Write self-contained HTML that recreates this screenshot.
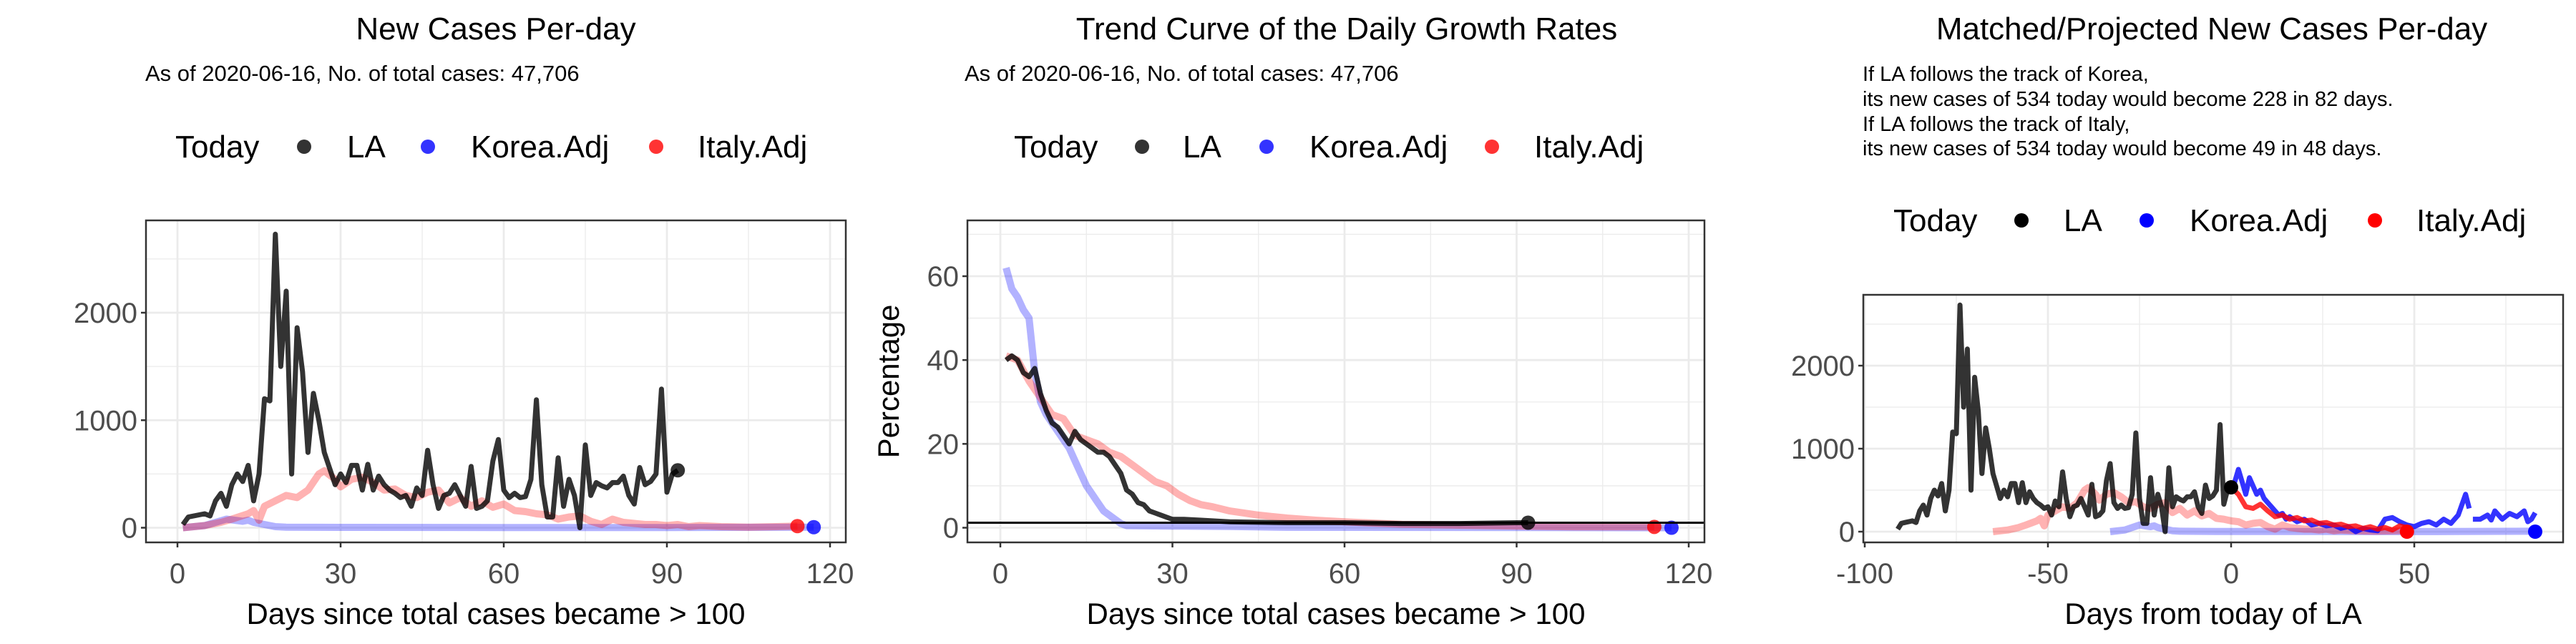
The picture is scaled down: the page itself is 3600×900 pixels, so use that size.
<!DOCTYPE html>
<html><head><meta charset="utf-8">
<style>
html,body{margin:0;padding:0;background:#fff;}
svg{display:block;font-family:"Liberation Sans",Arial,sans-serif;}
</style></head>
<body>
<svg id="chart" width="3600" height="900" viewBox="0 0 3600 900" xmlns="http://www.w3.org/2000/svg">
<g fill="#000">
<text x="693" y="55" font-size="44" text-anchor="middle">New Cases Per-day</text>
<text x="203" y="113" font-size="31">As of 2020-06-16, No. of total cases: 47,706</text>
<text x="1882" y="55" font-size="44" text-anchor="middle">Trend Curve of the Daily Growth Rates</text>
<text x="1348" y="113" font-size="31">As of 2020-06-16, No. of total cases: 47,706</text>
<text x="3091" y="55" font-size="44" text-anchor="middle">Matched/Projected New Cases Per-day</text>
<text font-size="29" x="2603">
<tspan x="2603" y="113">If LA follows the track of Korea,</tspan>
<tspan x="2603" y="148">its new cases of 534 today would become 228 in 82 days.</tspan>
<tspan x="2603" y="183">If LA follows the track of Italy,</tspan>
<tspan x="2603" y="217">its new cases of 534 today would become 49 in 48 days.</tspan>
</text>
</g>
<g id="layer"></g>
</svg>
<script>
// ---- data ----
const laDays = [];
for (let i = 1; i <= 92; i++) laDays.push(i);
const laCases = [30,100,110,120,130,110,250,320,200,400,500,430,580,250,500,1200,1180,2730,1500,2200,500,1860,1450,700,1250,1000,700,550,400,500,420,580,580,350,590,350,480,400,350,320,280,300,200,370,300,720,400,180,300,320,400,300,200,570,180,200,250,620,820,350,280,320,280,290,450,1190,400,100,100,650,200,450,300,0,770,300,420,390,370,420,420,480,300,220,560,400,430,500,1290,330,500,534];
const italyDays = [1,5,8,10,13,14,15,16,18,20,22,24,26,27,29,30,32,34,36,38,40,42,44,46,48,50,52,54,56,58,60,62,64,66,68,70,72,74,76,78,80,82,84,86,88,90,92,94,96,100,105,110,114];
const italyCases = [0,20,50,80,130,160,70,200,250,300,280,350,500,530,450,380,450,470,420,350,360,300,280,330,350,230,280,200,250,190,220,160,150,130,120,80,100,110,60,30,80,50,40,30,30,20,30,10,20,10,5,10,15];
const koreaDays = [1,5,9,12,13,14,16,18,20,30,60,90,117];
const koreaCases = [0,20,80,60,70,50,30,10,5,3,2,1,5];
const laGrowthDays = [1,2,3,4,5,6,7,8,9,10,11,12,13,14,15,16,17,18,19,20,21,22,23,24,25,26,27,28,29,30,32,35,40,50,60,70,80,90,92];
const laGrowth = [40,41,40,37,36,38,32,28,25,24,22,20,23,21,20,19,18,18,17,15,13,9,8,6,5.5,4,3.5,3,2.5,2,2,1.8,1.4,1.2,1.2,1,1,1.2,1.2];
const italyGrowthDays = [1,3,5,7,9,11,13,15,17,19,21,23,25,27,29,31,33,35,37,40,45,50,55,60,70,80,90,100,114];
const italyGrowth = [41,40,35,31,27,26,22,21,20,18,17,15,13,11,10,8,6.5,5.5,5,4,3,2.3,1.8,1.4,0.8,0.6,0.4,0.2,0.2];
const koreaGrowthDays = [1,2,3,4,5,6,7,8,9,10,11,12,13,14,15,16,17,18,19,20,21,22,30,40,50,117];
const koreaGrowth = [62,57,55,52,50,37,30,27,25,23,21,19,16,13,10,8,6,4,3,2,1,0.5,0.4,0.3,0.1,0];
const growthRef = 1.2;
const laToday = 92, italyShift = 66, koreaShift = 34;
const italyProjDays = [0,2,4,6,8,10,12,14,16,18,20,22,24,26,28,30,32,34,36,38,40,42,44,46,48];
const italyProj = [534,450,300,280,330,250,180,200,150,170,130,140,100,110,80,90,60,70,40,60,30,50,20,70,49];
const koreaProjDays = [0,1,2,3,4,5,6,7,8,9,10,11,12,13,14,15,16,18,20,22,24,26,28,30,32,34,36,38,40,42,44,46,48,50,52,54,56,58,60,62,64,65];
const koreaProj = [534,600,750,600,450,650,550,450,500,400,350,300,250,200,220,150,180,120,150,80,100,70,80,40,60,0,40,20,10,150,170,120,80,60,100,120,80,150,100,200,450,280];
const koreaProj2Days = [66,68,70,71,72,74,76,78,80,81,82,83];
const koreaProj2 = [150,150,200,140,250,150,220,180,250,120,150,228];
const legendLabels = ["LA","Korea.Adj","Italy.Adj"];

// ---- helpers ----
const NS = "http://www.w3.org/2000/svg";
const layer = document.getElementById("layer");
function mk(tag, attrs, parent) {
  const e = document.createElementNS(NS, tag);
  for (const k in attrs) e.setAttribute(k, attrs[k]);
  (parent || layer).appendChild(e);
  return e;
}
function lin(d0, d1, r0, r1) { return v => r0 + (v - d0) * (r1 - r0) / (d1 - d0); }
function pathD(xs, ys, sx, sy) {
  return xs.map((x, i) => (i ? "L" : "M") + sx(x).toFixed(1) + "," + sy(ys[i]).toFixed(1)).join("");
}

function panel(p) {
  const g = mk("g", {});
  
  
  const sx = lin(p.xd[0], p.xd[1], p.xr[0], p.xr[1]);
  const sy = lin(p.yd[0], p.yd[1], p.yr[0], p.yr[1]);
  p.yminor.forEach(v => mk("line", {x1: p.box[0], x2: p.box[2], y1: sy(v), y2: sy(v), stroke: "#ebebeb", "stroke-width": 1.3}, g));
  p.xminor.forEach(v => mk("line", {y1: p.box[1], y2: p.box[3], x1: sx(v), x2: sx(v), stroke: "#ebebeb", "stroke-width": 1.3}, g));
  p.yticks.forEach(v => mk("line", {x1: p.box[0], x2: p.box[2], y1: sy(v), y2: sy(v), stroke: "#ebebeb", "stroke-width": 2.8}, g));
  p.xticks.forEach(v => mk("line", {y1: p.box[1], y2: p.box[3], x1: sx(v), x2: sx(v), stroke: "#ebebeb", "stroke-width": 2.8}, g));
  const clipId = p.name + "-clip";
  const cp = mk("clipPath", {id: clipId}, g);
  mk("rect", {x: p.box[0], y: p.box[1], width: p.box[2] - p.box[0], height: p.box[3] - p.box[1]}, cp);
  const plot = mk("g", {"clip-path": "url(#" + clipId + ")"}, g);
  p.series.forEach(s => {
    const e = mk("path", {d: pathD(s.x, s.y, sx, sy), fill: "none", stroke: s.c, "stroke-opacity": s.o, "stroke-width": s.w, "stroke-linejoin": "round"}, plot);
    
    
  });
  p.points.forEach(pt => {
    const e = mk("circle", {cx: sx(pt.x), cy: sy(pt.y), r: 10, fill: pt.c, "fill-opacity": pt.o}, plot);
    
    
  });
  if (p.href !== undefined) {
    const e = mk("line", {x1: p.box[0], x2: p.box[2], y1: sy(p.href), y2: sy(p.href), stroke: "#000", "stroke-width": 3}, plot);
    
    
  }
  const fr = mk("rect", {x: p.box[0], y: p.box[1], width: p.box[2] - p.box[0], height: p.box[3] - p.box[1], fill: "none", stroke: "#333", "stroke-width": 2.5}, g);
  
  
  p.yticks.forEach(v => {
    mk("line", {x1: p.box[0] - 7, x2: p.box[0], y1: sy(v), y2: sy(v), stroke: "#333", "stroke-width": 2.5}, g);
    const t = mk("text", {x: p.box[0] - 12, y: sy(v) + 14, "font-size": 40, fill: "#4d4d4d", "text-anchor": "end"}, g);
    t.textContent = v;
    
    
  });
  p.xticks.forEach(v => {
    mk("line", {y1: p.box[3], y2: p.box[3] + 7, x1: sx(v), x2: sx(v), stroke: "#333", "stroke-width": 2.5}, g);
    const t = mk("text", {x: sx(v), y: p.box[3] + 57, "font-size": 40, fill: "#4d4d4d", "text-anchor": "middle"}, g);
    t.textContent = v;
    
    
  });
  const xt = mk("text", {x: (p.box[0] + p.box[2]) / 2, y: 872, "font-size": 42, fill: "#000", "text-anchor": "middle"}, g);
  xt.textContent = p.xtitle;
  
  
  if (p.ytitle) {
    const yt = mk("text", {x: 0, y: 0, "font-size": 42, fill: "#000", "text-anchor": "middle", transform: "translate(1256," + ((p.box[1] + p.box[3]) / 2) + ") rotate(-90)"}, g);
    yt.textContent = p.ytitle;
    
    
  }
  const lg = mk("g", {}, g);
  
  
  const L = p.legend;
  const tt = mk("text", {x: L.x[0], y: L.y + 15, "font-size": 44, fill: "#000"}, lg);
  tt.textContent = "Today";
  const cols = [L.dark, L.blue, L.red];
  for (let i = 0; i < 3; i++) {
    const c = mk("circle", {cx: L.x[1 + 2 * i], cy: L.y, r: 10, fill: cols[i]}, lg);
    
    
    const t = mk("text", {x: L.x[2 + 2 * i], y: L.y + 15, "font-size": 44, fill: "#000"}, lg);
    t.textContent = legendLabels[i];
    
    
  }
}

const shift = (arr, s) => arr.map(v => v - s);
const laLast = laCases[laCases.length - 1];
const itLast = italyCases[italyCases.length - 1];
const koLast = koreaCases[koreaCases.length - 1];

panel({
  name: "panel-new-cases", box: [204, 308, 1182, 758],
  xd: [0, 120], xr: [248, 1160], yd: [0, 2000], yr: [737.5, 437],
  xticks: [0, 30, 60, 90, 120], xminor: [15, 45, 75, 105], yticks: [0, 1000, 2000], yminor: [500, 1500, 2500],
  xtitle: "Days since total cases became > 100",
  series: [
    {n: "korea-line", x: koreaDays, y: koreaCases, c: "#0000ff", o: 0.3, w: 10},
    {n: "italy-line", x: italyDays, y: italyCases, c: "#ff0000", o: 0.3, w: 10},
    {n: "la-line", x: laDays, y: laCases, c: "#000", o: 0.8, w: 7}
  ],
  points: [
    {n: "la-today-point", x: laToday, y: laLast, c: "#000", o: 0.8},
    {n: "italy-today-point", x: italyDays[italyDays.length - 1], y: itLast, c: "#ff0000", o: 0.8},
    {n: "korea-today-point", x: koreaDays[koreaDays.length - 1], y: koLast, c: "#0000ff", o: 0.8}
  ],
  legend: {y: 205, x: [245, 425, 485, 598, 658, 917, 975], dark: "#333", blue: "#3333ff", red: "#ff3333"}
});

panel({
  name: "panel-growth-rates", box: [1352, 308, 2382, 758],
  xd: [0, 120], xr: [1398, 2360], yd: [0, 60], yr: [737.5, 386],
  xticks: [0, 30, 60, 90, 120], xminor: [15, 45, 75, 105], yticks: [0, 20, 40, 60], yminor: [10, 30, 50, 70],
  xtitle: "Days since total cases became > 100", ytitle: "Percentage", href: growthRef,
  series: [
    {n: "korea-growth-line", x: koreaGrowthDays, y: koreaGrowth, c: "#0000ff", o: 0.3, w: 10},
    {n: "italy-growth-line", x: italyGrowthDays, y: italyGrowth, c: "#ff0000", o: 0.3, w: 10},
    {n: "la-growth-line", x: laGrowthDays, y: laGrowth, c: "#000", o: 0.8, w: 7}
  ],
  points: [
    {n: "la-growth-point", x: laToday, y: laGrowth[laGrowth.length - 1], c: "#000", o: 0.8},
    {n: "italy-growth-point", x: italyGrowthDays[italyGrowthDays.length - 1], y: italyGrowth[italyGrowth.length - 1], c: "#ff0000", o: 0.8},
    {n: "korea-growth-point", x: koreaGrowthDays[koreaGrowthDays.length - 1], y: koreaGrowth[koreaGrowth.length - 1], c: "#0000ff", o: 0.8}
  ],
  legend: {y: 205, x: [1417, 1596, 1653, 1770, 1830, 2085, 2144], dark: "#333", blue: "#3333ff", red: "#ff3333"}
});

panel({
  name: "panel-projected", box: [2604, 412, 3582, 758],
  xd: [-100, 50], xr: [2606, 3374], yd: [0, 2000], yr: [743, 511],
  xticks: [-100, -50, 0, 50], xminor: [-75, -25, 25, 75], yticks: [0, 1000, 2000], yminor: [500, 1500, 2500],
  xtitle: "Days from today of LA",
  series: [
    {n: "korea-shifted-line", x: shift(koreaDays, koreaShift), y: koreaCases, c: "#0000ff", o: 0.3, w: 10},
    {n: "italy-shifted-line", x: shift(italyDays, italyShift), y: italyCases, c: "#ff0000", o: 0.3, w: 10},
    {n: "la-shifted-line", x: shift(laDays, laToday), y: laCases, c: "#000", o: 0.8, w: 7},
    {n: "korea-projection-line", x: koreaProjDays, y: koreaProj, c: "#0000ff", o: 0.8, w: 7},
    {n: "korea-projection-line-2", x: koreaProj2Days, y: koreaProj2, c: "#0000ff", o: 0.8, w: 7},
    {n: "italy-projection-line", x: italyProjDays, y: italyProj, c: "#ff0000", o: 0.8, w: 7}
  ],
  points: [
    {n: "la-today-point", x: 0, y: laLast, c: "#000", o: 1},
    {n: "italy-projected-point", x: italyProjDays[italyProjDays.length - 1], y: 0, c: "#ff0000", o: 1},
    {n: "korea-projected-point", x: koreaDays[koreaDays.length - 1] - koreaShift, y: 0, c: "#0000ff", o: 1}
  ],
  legend: {y: 308, x: [2646, 2825, 2884, 3000, 3060, 3319, 3377], dark: "#000", blue: "#0000ff", red: "#ff0000"}
});
</script>
</body></html>
